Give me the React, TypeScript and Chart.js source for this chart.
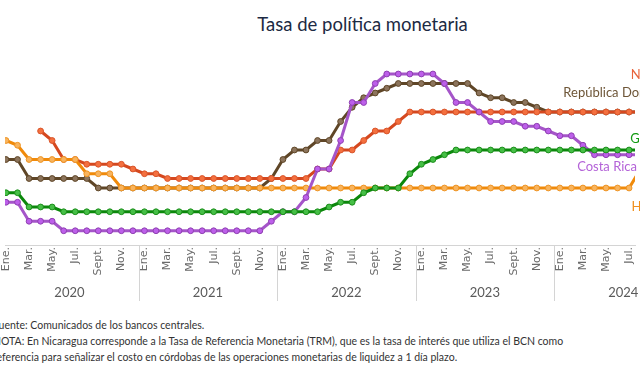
import React, { useEffect, useRef } from 'react';
import { Chart, registerables } from 'chart.js';

Chart.register(...registerables);

// ---- Data ----
const MONTHS = ['Ene.', 'Feb.', 'Mar.', 'Abr.', 'May.', 'Jun.', 'Jul.', 'Ago.', 'Sept.', 'Oct.', 'Nov.', 'Dic.'];
const YEARS = ['2020', '2021', '2022', '2023', '2024'];
const TICK_MONTHS = ['Ene.', 'Mar.', 'May.', 'Jul.', 'Sept.', 'Nov.'];
const N_POINTS = 56; // Ene. 2020 .. Ago. 2024

const CATEGORIES: { month: string; year: string }[] = [];
YEARS.forEach((y) => MONTHS.forEach((m) => CATEGORIES.push({ month: m, year: y })));
const PERIODS = CATEGORIES.slice(0, N_POINTS);

const NICARAGUA = [
  null, null, null, 6.0, 5.5, 4.5, 4.5, 4.25, 4.25, 4.25, 4.25, 4.0,
  3.75, 3.75, 3.5, 3.5, 3.5, 3.5, 3.5, 3.5, 3.5, 3.5, 3.5, 3.5,
  3.5, 3.5, 3.5, 4.0, 4.0, 5.0, 5.0, 5.5, 6.0, 6.0, 6.5, 7.0,
  7.0, 7.0, 7.0, 7.0, 7.0, 7.0, 7.0, 7.0, 7.0, 7.0, 7.0, 7.0,
  7.0, 7.0, 7.0, 7.0, 7.0, 7.0, 7.0, 7.0,
];
const REP_DOMINICANA = [
  4.5, 4.5, 3.5, 3.5, 3.5, 3.5, 3.5, 3.5, 3.0, 3.0, 3.0, 3.0,
  3.0, 3.0, 3.0, 3.0, 3.0, 3.0, 3.0, 3.0, 3.0, 3.0, 3.0, 3.5,
  4.5, 5.0, 5.0, 5.5, 5.5, 6.5, 7.25, 7.75, 8.0, 8.25, 8.5, 8.5,
  8.5, 8.5, 8.5, 8.5, 8.5, 8.0, 7.75, 7.75, 7.5, 7.5, 7.25, 7.0,
  7.0, 7.0, 7.0, 7.0, 7.0, 7.0, 7.0, 7.0,
];
const GUATEMALA = [
  2.75, 2.75, 2.0, 2.0, 2.0, 1.75, 1.75, 1.75, 1.75, 1.75, 1.75, 1.75,
  1.75, 1.75, 1.75, 1.75, 1.75, 1.75, 1.75, 1.75, 1.75, 1.75, 1.75, 1.75,
  1.75, 1.75, 1.75, 1.75, 2.0, 2.25, 2.25, 2.75, 3.0, 3.0, 3.0, 3.75,
  4.25, 4.5, 4.75, 5.0, 5.0, 5.0, 5.0, 5.0, 5.0, 5.0, 5.0, 5.0,
  5.0, 5.0, 5.0, 5.0, 5.0, 5.0, 5.0, 5.0,
];
const COSTA_RICA = [
  2.25, 2.25, 1.25, 1.25, 1.25, 0.75, 0.75, 0.75, 0.75, 0.75, 0.75, 0.75,
  0.75, 0.75, 0.75, 0.75, 0.75, 0.75, 0.75, 0.75, 0.75, 0.75, 0.75, 1.25,
  1.75, 1.75, 2.5, 4.0, 4.0, 5.5, 7.5, 7.5, 8.5, 9.0, 9.0, 9.0,
  9.0, 9.0, 8.5, 7.5, 7.5, 7.0, 6.5, 6.5, 6.5, 6.25, 6.25, 6.0,
  5.75, 5.75, 5.25, 4.75, 4.75, 4.75, 4.75, 4.75,
];
const HONDURAS = [
  5.5, 5.25, 4.5, 4.5, 4.5, 4.5, 4.5, 3.75, 3.75, 3.75, 3.0, 3.0,
  3.0, 3.0, 3.0, 3.0, 3.0, 3.0, 3.0, 3.0, 3.0, 3.0, 3.0, 3.0,
  3.0, 3.0, 3.0, 3.0, 3.0, 3.0, 3.0, 3.0, 3.0, 3.0, 3.0, 3.0,
  3.0, 3.0, 3.0, 3.0, 3.0, 3.0, 3.0, 3.0, 3.0, 3.0, 3.0, 3.0,
  3.0, 3.0, 3.0, 3.0, 3.0, 3.0, 3.0, 4.0,
];

const TITLE = 'Tasa de política monetaria';
const SOURCE = 'Fuente: Comunicados de los bancos centrales.';
const NOTE_1 = 'NOTA: En Nicaragua corresponde a la Tasa de Referencia Monetaria (TRM), que es la tasa de interés que utiliza el BCN como';
const NOTE_2 = 'referencia para señalizar el costo en córdobas de las operaciones monetarias de liquidez a 1 día plazo.';

const FONT = 'Lato, "Open Sans", sans-serif';

const SERIES = [
  { name: 'Guatemala', data: GUATEMALA, line: '#0B880B', fill: '#46BF46', border: '#1C8E1C', text: '#129A12', lx: 54.1, ly: 5.6 },
  { name: 'Costa Rica', data: COSTA_RICA, line: '#A555C9', fill: '#BD5FEA', border: '#8E40B0', text: '#B463D8', lx: 49.5, ly: 4.1 },
  { name: 'Honduras', data: HONDURAS, line: '#F08A0A', fill: '#F8B45E', border: '#EE9424', text: '#F0901E', lx: 54.2, ly: 2.0 },
  { name: 'Nicaragua', data: NICARAGUA, line: '#D5481F', fill: '#F4703F', border: '#D9552B', text: '#E8643C', lx: 54.15, ly: 8.95 },
  { name: 'República Dominicana', data: REP_DOMINICANA, line: '#5F4627', fill: '#8C745C', border: '#5F4627', text: '#6E5638', lx: 48.3, ly: 8.0 },
];

const X_MIN = -0.0853;
const X_MAX = 54.513;

const seriesLabels = {
  id: 'seriesLabels',
  afterDatasetsDraw(chart: any) {
    const { ctx, scales } = chart;
    ctx.save();
    ctx.font = `13px ${FONT}`;
    ctx.textAlign = 'left';
    ctx.textBaseline = 'middle';
    SERIES.forEach((s) => {
      ctx.fillStyle = s.text;
      ctx.fillText(s.name, scales.x.getPixelForValue(s.lx), scales.y.getPixelForValue(s.ly));
    });
    ctx.restore();
  },
};

const yearAxis = {
  id: 'yearAxis',
  afterDraw(chart: any) {
    const { ctx, scales, chartArea } = chart;
    const x = scales.x;
    const top = chartArea.bottom;
    ctx.save();
    ctx.strokeStyle = '#D4D4D4';
    ctx.lineWidth = 1;
    YEARS.forEach((yr, k) => {
      const first = PERIODS.findIndex((p) => p.year === yr);
      if (first < 0) return;
      if (k > 0) {
        const px = Math.round(x.getPixelForValue(first - 0.5)) + 0.5;
        ctx.beginPath();
        ctx.moveTo(px, top);
        ctx.lineTo(px, top + 56);
        ctx.stroke();
      }
      ctx.fillStyle = '#5A5A5A';
      ctx.font = `13px ${FONT}`;
      ctx.textAlign = 'center';
      ctx.textBaseline = 'middle';
      ctx.fillText(yr, x.getPixelForValue(k * 12 + 5.5), top + 48);
    });
    ctx.restore();
  },
};

export default function App() {
  const ref = useRef<HTMLCanvasElement | null>(null);

  useEffect(() => {
    if (!ref.current) return;
    const chart = new Chart(ref.current, {
      type: 'line',
      data: {
        datasets: SERIES.map((s, i) => ({
          label: s.name,
          data: s.data.map((v, idx) => ({ x: idx, y: v })),
          order: i,
          borderColor: s.line,
          borderWidth: 3,
          backgroundColor: s.fill,
          pointBackgroundColor: s.fill,
          pointBorderColor: s.border,
          pointBorderWidth: 1,
          pointRadius: 2.9,
          tension: 0,
          spanGaps: false,
        })),
      },
      options: {
        responsive: false,
        animation: false,
        layout: { padding: { top: 55, left: 0, right: 0, bottom: 0 } },
        plugins: {
          legend: { display: false },
          title: { display: false },
          tooltip: { enabled: false },
        },
        scales: {
          x: {
            type: 'linear',
            min: X_MIN,
            max: X_MAX,
            grid: { display: false, drawTicks: false },
            border: { display: true, color: '#D4D4D4', width: 1 },
            afterBuildTicks: (scale: any) => {
              scale.ticks = PERIODS.map((p, i) => ({ value: i, p }))
                .filter((t) => TICK_MONTHS.includes(t.p.month))
                .map((t) => ({ value: t.value }));
            },
            afterFit: (scale: any) => {
              scale.height = 60;
              scale.paddingLeft = 0;
              scale.paddingRight = 0;
            },
            ticks: {
              autoSkip: false,
              maxRotation: 90,
              minRotation: 90,
              padding: 2,
              color: '#6A6A6A',
              font: { family: '"DejaVu Sans"', size: 11 },
              callback: (value: any) => {
                const p = PERIODS[Math.round(Number(value))];
                return p ? p.month : '';
              },
            },
          },
          y: {
            display: false,
            min: 0,
            max: 10,
          },
        },
      },
      plugins: [seriesLabels, yearAxis],
    });
    return () => chart.destroy();
  }, []);

  const noteStyle: React.CSSProperties = {
    position: 'absolute',
    left: -7,
    fontFamily: FONT,
    fontSize: 10.5,
    lineHeight: '16px',
    color: '#333',
    whiteSpace: 'nowrap',
  };

  return (
    <div
      style={{
        position: 'fixed',
        left: 0,
        top: 0,
        width: 640,
        height: 373,
        overflow: 'hidden',
        background: '#fff',
      }}
    >
      <div
        style={{
          position: 'absolute',
          left: 0,
          width: 725,
          top: 12,
          textAlign: 'center',
          fontFamily: FONT,
          fontSize: 18.5,
          lineHeight: '24px',
          color: '#1C2A43',
          whiteSpace: 'nowrap',
        }}
      >
        {TITLE}
      </div>
      <canvas ref={ref} width={640} height={305} style={{ position: 'absolute', left: 0, top: 0, display: 'block' }} />
      <div style={{ ...noteStyle, top: 317 }}>{SOURCE}</div>
      <div style={{ ...noteStyle, top: 333 }}>{NOTE_1}</div>
      <div style={{ ...noteStyle, top: 349 }}>{NOTE_2}</div>
    </div>
  );
}
